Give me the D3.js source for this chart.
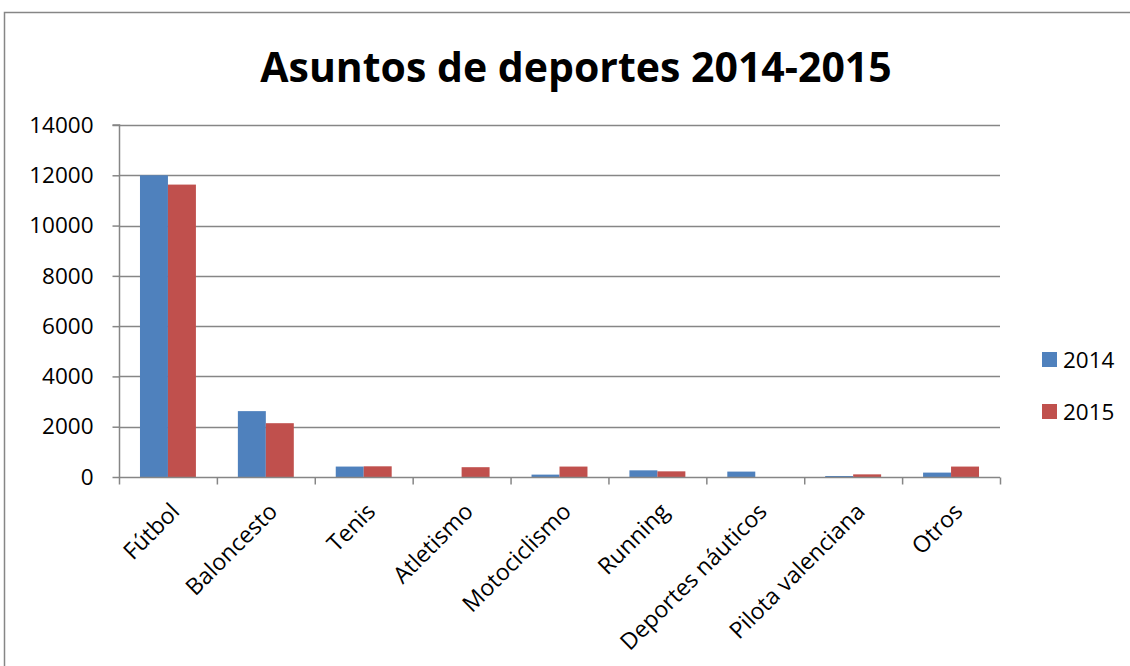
<!DOCTYPE html>
<html>
<head>
<meta charset="utf-8">
<script src="https://cdn.jsdelivr.net/npm/d3@7"></script>
<style>
  html, body { margin: 0; padding: 0; background: #fff; }
  svg { display: block; font-family: "Open Sans", "Noto Sans", sans-serif; }
</style>
</head>
<body>
<svg id="chart" width="1130" height="666"></svg>
<script>
// Sports topics, counts per year
const categories = ["Fútbol", "Baloncesto", "Tenis", "Atletismo", "Motociclismo",
  "Running", "Deportes náuticos", "Pilota valenciana", "Otros"];
const years = ["2014", "2015"];
const values2014 = [12000, 2620, 415, 0, 95, 265, 215, 40, 175];
const values2015 = [11630, 2140, 425, 390, 415, 225, 0, 105, 415];
const yTicks = [0, 2000, 4000, 6000, 8000, 10000, 12000, 14000];
const colors = ["#4F81BD", "#C0504D"];

const svg = d3.select("#chart");
const W = 1130, H = 666;

// outer chart frame
svg.append("rect")
  .attr("x", 4.5).attr("y", 12.5)
  .attr("width", W + 10).attr("height", H + 10)
  .attr("fill", "#fff").attr("stroke", "#868686").attr("stroke-width", 1.5);

const plot = { left: 119, right: 1000, top: 125, bottom: 477 };

const x = d3.scaleBand().domain(categories).range([plot.left, plot.right]).paddingInner(0).paddingOuter(0);
// two bars per category, gap width 150% of a bar
const x1 = d3.scaleBand().domain(years).range([0, x.bandwidth()])
  .paddingInner(0).paddingOuter(0.75);
const y = d3.scaleLinear().domain([0, 14000]).range([plot.bottom, plot.top]);

// horizontal gridlines
svg.append("g").selectAll("line")
  .data(yTicks.filter(d => d > 0))
  .join("line")
  .attr("x1", plot.left).attr("x2", plot.right)
  .attr("y1", d => Math.round(y(d)) + 0.5).attr("y2", d => Math.round(y(d)) + 0.5)
  .attr("stroke", "#868686").attr("stroke-width", 1.5);

// bars
const series = [values2014, values2015];
const groups = svg.append("g").selectAll("g")
  .data(categories)
  .join("g")
  .attr("transform", d => `translate(${x(d)},0)`);

groups.selectAll("rect")
  .data((d, i) => years.map((yr, s) => ({ yr, v: series[s][i], s })))
  .join("rect")
  .attr("x", d => x1(d.yr))
  .attr("width", x1.bandwidth())
  .attr("y", d => y(d.v))
  .attr("height", d => plot.bottom - y(d.v))
  .attr("fill", d => colors[d.s]);

// y axis
const yAxis = d3.axisLeft(y).tickValues(yTicks).tickSize(7).tickPadding(19).tickFormat(d3.format("d"));
const gy = svg.append("g").attr("transform", `translate(${plot.left + 0.5},0)`).call(yAxis);
gy.select(".domain").attr("stroke", "#868686").attr("stroke-width", 1.5).attr("d", `M-7,${plot.top}H0V${plot.bottom}`);
gy.selectAll(".tick line").attr("stroke", "#868686").attr("stroke-width", 1.5);
gy.selectAll(".tick text").attr("font-size", 22.5).attr("fill", "#000")
  .attr("font-family", "Open Sans");

// x axis
const xAxis = d3.axisBottom(x).tickSize(0).tickFormat("");
const gx = svg.append("g").attr("transform", `translate(0,${plot.bottom + 0.5})`).call(xAxis);
gx.select(".domain").attr("stroke", "#868686").attr("stroke-width", 1.5).attr("d", `M${plot.left},0H${plot.right}`);
gx.selectAll(".tick").remove();
const edges = categories.map(c => x(c)).concat([plot.right]);
gx.selectAll("line.tk").data(edges).join("line").attr("class", "tk")
  .attr("x1", d => d + 0.5).attr("x2", d => d + 0.5).attr("y1", 0).attr("y2", 7)
  .attr("stroke", "#868686").attr("stroke-width", 1.5);

// rotated category labels
svg.append("g").selectAll("text")
  .data(categories)
  .join("text")
  .attr("transform", d => `translate(${x(d) + x.bandwidth() / 2 + 13},${plot.bottom + 36}) rotate(-45)`)
  .attr("text-anchor", "end")
  .attr("font-size", 23)
  .attr("fill", "#000")
  .text(d => d);

// title
svg.append("text")
  .attr("x", 576).attr("y", 82)
  .attr("text-anchor", "middle")
  .attr("font-size", 41).attr("font-weight", "bold")
  .attr("fill", "#000")
  .text("Asuntos de deportes 2014-2015");

// legend
const legend = svg.append("g").selectAll("g")
  .data(years)
  .join("g")
  .attr("transform", (d, i) => `translate(1042,${352 + i * 52})`);
legend.append("rect").attr("width", 15).attr("height", 15).attr("fill", (d, i) => colors[i]);
legend.append("text").attr("x", 21).attr("y", 16).attr("font-size", 22.5).attr("fill", "#000").text(d => d);
</script>
</body>
</html>
